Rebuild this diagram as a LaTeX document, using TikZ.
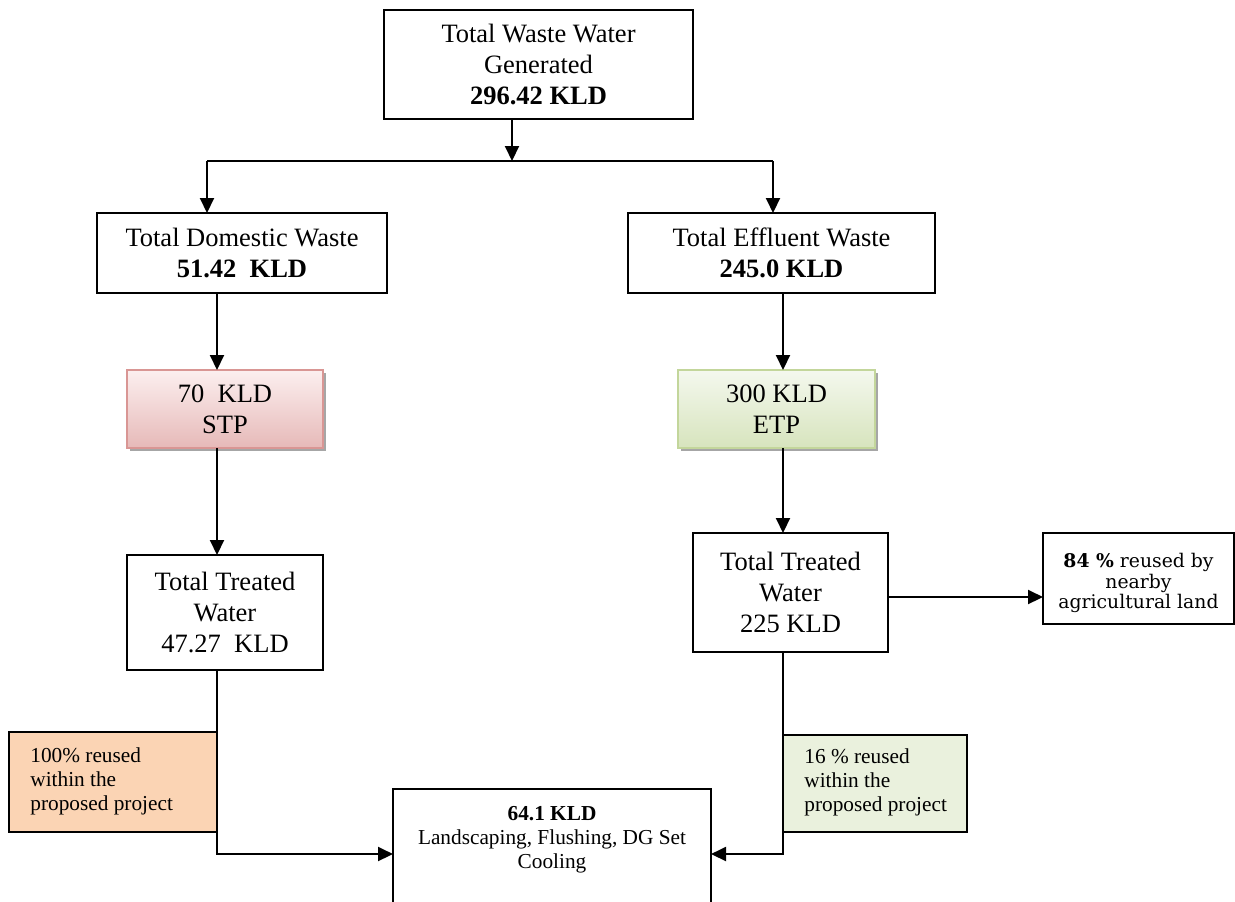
\documentclass[tikz,border=0pt]{standalone}
\usepackage{fontspec}
\setmainfont{Liberation Serif}
\newfontfamily\camfont{DejaVu Serif}
\usetikzlibrary{arrows.meta,shadows}

\definecolor{stptop}{HTML}{FCEFEF}
\definecolor{stpbot}{HTML}{E6B9B8}
\definecolor{stpline}{HTML}{D99694}
\definecolor{etptop}{HTML}{F4F8EE}
\definecolor{etpbot}{HTML}{D7E4BD}
\definecolor{etpline}{HTML}{C3D69B}
\definecolor{peach}{HTML}{FBD4B4}
\definecolor{palegreen}{HTML}{EAF1DD}
\definecolor{shadowgrey}{HTML}{A6A6A6}

\tikzset{
  box/.style={draw=black, line width=0.8pt, inner sep=0pt, outer sep=0pt,
    align=center, font=\fontsize{13.25pt}{15.5pt}\selectfont},
  plant/.style={box, line width=1pt,
    drop shadow={shadow xshift=1.6pt, shadow yshift=-1.6pt, fill=shadowgrey, opacity=1}},
  note/.style={draw=black, line width=0.8pt, inner sep=0pt, outer sep=0pt},
  smalltext/.style={inner sep=0pt, align=left, font=\fontsize{10.65pt}{12pt}\selectfont},
  arr/.style={line width=1pt, -{Triangle[length=7.5pt,width=7pt]}},
  ln/.style={line width=1pt}
}

\begin{document}
\begin{tikzpicture}[x=0.5pt, y=-0.5pt]
\useasboundingbox (0,0) rectangle (1235,901);

% main chain of boxes
\node[box, minimum width=154.5pt, minimum height=54.5pt] (top) at (538.5,64.5)
  {Total Waste Water\\Generated\\\textbf{296.42 KLD}};
\node[box, minimum width=145pt, minimum height=40pt] (dom) at (242,253)
  {Total Domestic Waste\\\textbf{51.42\hspace{0.5em}KLD}};
\node[box, minimum width=153.5pt, minimum height=40pt] (eff) at (781.5,253)
  {Total Effluent Waste\\\textbf{245.0 KLD}};
\node[plant, draw=stpline, top color=stptop, bottom color=stpbot,
  minimum width=98pt, minimum height=39pt] (stp) at (225,409)
  {70\hspace{0.5em}KLD\\STP};
\node[plant, draw=etpline, top color=etptop, bottom color=etpbot,
  minimum width=98.5pt, minimum height=39pt] (etp) at (776.5,409)
  {300 KLD\\ETP};
\node[box, minimum width=98pt, minimum height=57.5pt] (trL) at (225,612.5)
  {Total Treated\\Water\\47.27\hspace{0.5em}KLD};
\node[box, minimum width=97.5pt, minimum height=59.5pt] (trR) at (790.5,592.5)
  {Total Treated\\Water\\225 KLD};
\node[box, minimum width=95.5pt, minimum height=45.5pt] (agri) at (1138.5,578.5) {};
\node[inner sep=0pt, align=center, font=\camfont\fontsize{9.4pt}{10.25pt}\selectfont]
  (agritext) at (1138.5,583) {\textbf{84 \%} reused by\\nearby\\agricultural land};

% reuse notes
\node[note, fill=peach, minimum width=104pt, minimum height=50pt] (p100) at (113,782) {};
\node[smalltext, anchor=west] (p100text) at (30,781.5)
  {100\% reused\\within the\\proposed project};
\node[note, fill=palegreen, minimum width=92pt, minimum height=48.5pt] (p16) at (875,783.5) {};
\node[smalltext, anchor=west] (p16text) at (804,782)
  {16 \% reused\\within the\\proposed project};

% final use box, running past the lower edge
\node[note, minimum width=159pt, minimum height=61pt] (use) at (552,850) {};
\node[inner sep=0pt, align=center, font=\fontsize{10.65pt}{12pt}\selectfont]
  (usetext) at (552,839.5)
  {\textbf{64.1 KLD}\\Landscaping, Flushing, DG Set\\Cooling};

% junction points
\coordinate (split) at (512,161);
\coordinate (jl) at (207,161);
\coordinate (jr) at (773,161);
\coordinate (dl) at (217,0);
\coordinate (dr) at (783,0);
\coordinate (ja) at (0,597);
\coordinate (jb) at (0,854);

% connectors
\draw[arr] (top.south -| split) -- (split);
\draw[ln] (jl) -- (jr);
\draw[arr] (jl) -- (dom.north -| jl);
\draw[arr] (jr) -- (eff.north -| jr);
\draw[arr] (dom.south -| dl) -- (stp.north -| dl);
\draw[arr] (stp.south -| dl) -- (trL.north -| dl);
\draw[arr] (eff.south -| dr) -- (etp.north -| dr);
\draw[arr] (etp.south -| dr) -- (trR.north -| dr);
\draw[arr] (trR.east |- ja) -- (agri.west |- ja);
\draw[arr] (trL.south -| dl) |- (use.west |- jb);
\draw[arr] (trR.south -| dr) |- (use.east |- jb);
\end{tikzpicture}
\end{document}
